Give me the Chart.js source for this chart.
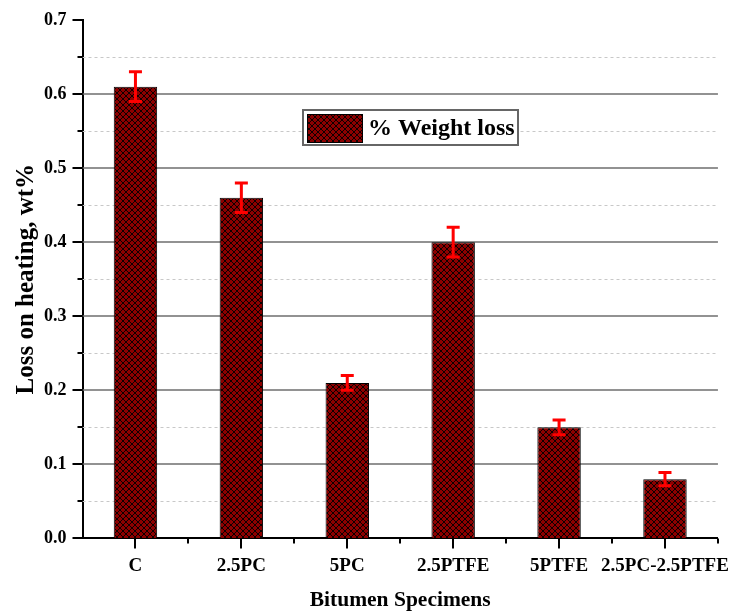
<!DOCTYPE html>
<html>
<head>
<meta charset="utf-8">
<script src="https://cdn.jsdelivr.net/npm/chart.js@4.4.1/dist/chart.umd.min.js"></script>
<style>
  html, body { margin: 0; padding: 0; background: #fff; }
  #wrap { width: 732px; height: 616px; }
</style>
</head>
<body>
<div id="wrap"><canvas id="chartLoss"></canvas></div>
<script>
// datos
const categorias = ["C", "2.5PC", "5PC", "2.5PTFE", "5PTFE", "2.5PC-2.5PTFE"];
const perdidaPeso = [0.61, 0.46, 0.21, 0.40, 0.15, 0.08];
const errores = [0.02, 0.02, 0.01, 0.02, 0.01, 0.009];
const yTicksMayores = [0.1, 0.2, 0.3, 0.4, 0.5, 0.6, 0.7];
const yTicksMenores = [0.05, 0.15, 0.25, 0.35, 0.45, 0.55, 0.65];

const FUENTE = "'Liberation Serif', 'Times New Roman', serif";

/* patron cuadriculado de las barras */
const crearPatron = () => {
  const c = document.createElement("canvas");
  c.width = 6;
  c.height = 6;
  const g = c.getContext("2d");
  g.fillStyle = "#8c0000";
  g.fillRect(0, 0, 6, 6);
  g.strokeStyle = "rgba(0,0,0,0.9)";
  g.lineWidth = 1;
  g.beginPath();
  g.moveTo(0, 0); g.lineTo(6, 6);
  g.moveTo(6, 0); g.lineTo(0, 6);
  g.stroke();
  return g.createPattern(c, "repeat");
};
const patron = crearPatron();

/* lineas de cuadricula y marcas de los ejes */
const gridPlugin = {
  id: "gridManual",
  beforeDatasetsDraw(chart) {
    const { ctx, chartArea, scales } = chart;
    const y = scales.y;
    ctx.save();
    // menores punteadas
    ctx.strokeStyle = "#c8c8c8";
    ctx.lineWidth = 1;
    ctx.setLineDash([3, 3]);
    yTicksMenores.forEach((v) => {
      const py = Math.round(y.getPixelForValue(v)) + 0.5;
      ctx.beginPath();
      ctx.moveTo(chartArea.left, py);
      ctx.lineTo(chartArea.right, py);
      ctx.stroke();
    });
    // mayores solidas
    ctx.setLineDash([]);
    ctx.strokeStyle = "#6e6e6e";
    ctx.lineWidth = 1.5;
    yTicksMayores.slice(0, -1).forEach((v) => {
      const py = Math.round(y.getPixelForValue(v));
      ctx.beginPath();
      ctx.moveTo(chartArea.left, py);
      ctx.lineTo(chartArea.right, py);
      ctx.stroke();
    });
    ctx.restore();
  },
  afterDraw(chart) {
    const { ctx, chartArea, scales } = chart;
    const y = scales.y;
    const x = scales.x;
    ctx.save();
    ctx.strokeStyle = "#000";
    ctx.lineWidth = 2;
    ctx.beginPath();
    yTicksMayores.concat([0]).forEach((v) => {
      const py = Math.round(y.getPixelForValue(v));
      ctx.moveTo(chartArea.left - 10, py);
      ctx.lineTo(chartArea.left, py);
    });
    yTicksMenores.forEach((v) => {
      const py = Math.round(y.getPixelForValue(v));
      ctx.moveTo(chartArea.left - 5, py);
      ctx.lineTo(chartArea.left, py);
    });
    categorias.forEach((c, i) => {
      const px = Math.round(x.getPixelForValue(i));
      ctx.moveTo(px, chartArea.bottom);
      ctx.lineTo(px, chartArea.bottom + 10);
      const pb = Math.round(x.getPixelForValue(i + 0.5));
      ctx.moveTo(pb, chartArea.bottom);
      ctx.lineTo(pb, chartArea.bottom + 5);
    });
    ctx.stroke();
    ctx.restore();
  },
};

/* barras de error rojas */
const errorPlugin = {
  id: "barrasError",
  afterDatasetsDraw(chart) {
    const { ctx, scales } = chart;
    const meta = chart.getDatasetMeta(0);
    ctx.save();
    ctx.strokeStyle = "#ff0000";
    ctx.lineWidth = 3;
    meta.data.forEach((bar, i) => {
      const top = scales.y.getPixelForValue(perdidaPeso[i] + errores[i]);
      const bot = scales.y.getPixelForValue(perdidaPeso[i] - errores[i]);
      ctx.beginPath();
      ctx.moveTo(bar.x, top);
      ctx.lineTo(bar.x, bot);
      ctx.moveTo(bar.x - 6.5, top);
      ctx.lineTo(bar.x + 6.5, top);
      ctx.moveTo(bar.x - 6.5, bot);
      ctx.lineTo(bar.x + 6.5, bot);
      ctx.stroke();
    });
    ctx.restore();
  },
};

/* leyenda dentro del area */
const leyendaPlugin = {
  id: "leyendaCaja",
  afterDraw(chart) {
    const { ctx } = chart;
    const etiqueta = chart.data.datasets[0].label;
    const bx = 303, by = 110, bw = 215, bh = 35;
    ctx.save();
    ctx.fillStyle = "#fff";
    ctx.fillRect(bx, by, bw, bh);
    ctx.strokeStyle = "#666";
    ctx.lineWidth = 2;
    ctx.strokeRect(bx, by, bw, bh);
    ctx.fillStyle = patron;
    ctx.fillRect(bx + 4, by + 4, 55, 28);
    ctx.strokeStyle = "#000";
    ctx.lineWidth = 1;
    ctx.strokeRect(bx + 4.5, by + 4.5, 55, 28);
    ctx.fillStyle = "#000";
    ctx.font = "bold 24px " + FUENTE;
    ctx.textBaseline = "middle";
    ctx.fillText(etiqueta, bx + 65, by + bh / 2 + 1);
    ctx.restore();
  },
};

const gridInvisible = {
  display: true,
  drawOnChartArea: false,
  drawTicks: true,
  tickLength: 14,
  tickColor: "rgba(0,0,0,0)",
  color: "rgba(0,0,0,0)",
};

const chartLoss = new Chart(document.getElementById("chartLoss"), {
  type: "bar",
  data: {
    labels: categorias,
    datasets: [
      {
        label: "% Weight loss",
        data: perdidaPeso,
        backgroundColor: patron,
        borderColor: "#000",
        borderWidth: 1,
        barPercentage: 0.41,
        categoryPercentage: 1,
      },
    ],
  },
  options: {
    responsive: true,
    maintainAspectRatio: false,
    animation: false,
    layout: { padding: { top: 20, right: 14, left: 12, bottom: 3 } },
    plugins: {
      legend: { display: false },
      tooltip: { enabled: false },
    },
    scales: {
      x: {
        offset: true,
        grid: gridInvisible,
        border: { display: true, color: "#000", width: 2 },
        ticks: {
          color: "#000",
          padding: 2,
          maxRotation: 0,
          autoSkip: false,
          font: { family: FUENTE, size: 19, weight: "bold" },
        },
        title: {
          display: true,
          text: "Bitumen Specimens",
          color: "#000",
          padding: { top: 8, bottom: 0 },
          font: { family: FUENTE, size: 21.5, weight: "bold" },
        },
      },
      y: {
        min: 0,
        max: 0.7,
        grid: gridInvisible,
        border: { display: true, color: "#000", width: 2 },
        ticks: {
          stepSize: 0.1,
          color: "#000",
          padding: 2,
          font: { family: FUENTE, size: 18, weight: "bold" },
          callback: (v) => v.toFixed(1),
        },
        title: {
          display: true,
          text: "Loss on heating, wt%",
          color: "#000",
          padding: { top: 0, bottom: 0 },
          font: { family: FUENTE, size: 25, weight: "bold" },
        },
      },
    },
  },
  plugins: [gridPlugin, errorPlugin, leyendaPlugin],
});
</script>
</body>
</html>
